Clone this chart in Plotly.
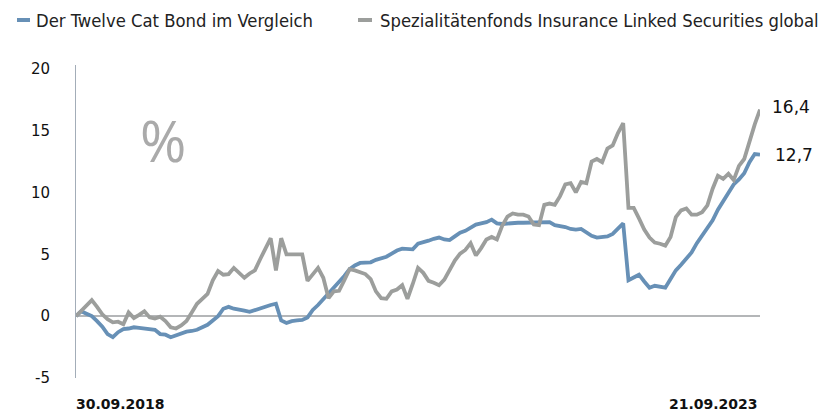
import plotly.graph_objects as go
import pandas as pd

start_date = "2018-09-30"
n_points = 131
dates = pd.date_range(start_date, periods=n_points, freq="14D")

twelve_cat_bond = [
    0.0, 0.4, 0.2, 0.0, -0.4, -0.85, -1.45, -1.7, -1.3, -1.05,
    -1.0, -0.9, -0.95, -1.0, -1.05, -1.1, -1.45, -1.5, -1.7, -1.55,
    -1.35, -1.25, -1.2, -1.1, -0.9, -0.7, -0.35, 0.0, 0.6, 0.75,
    0.6, 0.55, 0.45, 0.35, 0.5, 0.65, 0.75, 0.9, 1.0, -0.35,
    -0.55, -0.4, -0.35, -0.3, -0.1, 0.5, 0.9, 1.35, 1.85, 2.25,
    2.7, 3.25, 3.8, 4.1, 4.3, 4.35, 4.35, 4.55, 4.65, 4.8,
    5.05, 5.3, 5.45, 5.4, 5.4, 5.85, 5.95, 6.1, 6.25, 6.35,
    6.2, 6.15, 6.45, 6.75, 6.9, 7.15, 7.4, 7.5, 7.6, 7.8,
    7.5, 7.45, 7.5, 7.5, 7.55, 7.55, 7.55, 7.6, 7.6, 7.6,
    7.6, 7.35, 7.3, 7.2, 7.05, 7.0, 7.05, 6.75, 6.5, 6.35,
    6.4, 6.45, 6.65, 7.1, 7.5, 2.9, 3.1, 3.35, 2.8, 2.3,
    2.45, 2.4, 2.3, 3.0, 3.7, 4.15, 4.6, 5.15, 5.9, 6.5,
    7.05, 7.75, 8.6, 9.3, 10.05, 10.65, 11.05, 11.55, 12.45, 13.1,
    13.05,
]

ils_fonds = [
    0.0, 0.45, 0.9, 1.3, 0.75, 0.15, -0.25, -0.5, -0.45, -0.65,
    0.3, -0.15, 0.1, 0.4, -0.1, -0.2, -0.05, -0.4, -0.9, -1.0,
    -0.75, -0.4, 0.3, 1.0, 1.4, 1.8, 2.9, 3.65, 3.35, 3.4,
    3.9, 3.5, 3.1, 3.45, 3.7, 4.6, 5.4, 6.3, 3.7, 6.3,
    5.0, 5.0, 5.05, 5.0, 2.85, 3.4, 3.9, 3.1, 1.45, 2.0,
    2.05, 2.9, 3.8, 3.7, 3.55, 3.4, 3.0, 2.0, 1.45, 1.4,
    2.0, 2.15, 2.5, 1.4, 2.6, 3.9, 3.5, 2.85, 2.7, 2.5,
    2.95, 3.75, 4.5, 5.05, 5.35, 5.9, 4.9, 5.5, 6.2, 6.4,
    6.2, 7.3, 8.05, 8.3, 8.2, 8.2, 8.05, 7.4, 7.35, 9.0,
    9.1, 9.0, 9.7, 10.65, 10.75, 10.0, 10.85, 10.75, 12.5, 12.7,
    12.45, 13.55, 13.8, 14.8, 15.6, 8.75, 8.75, 7.9, 7.0, 6.35,
    5.95, 5.85, 5.7, 6.4, 8.0, 8.55, 8.7, 8.2, 8.2, 8.4,
    8.95, 10.3, 11.35, 11.1, 11.5, 11.0, 12.15, 12.7, 14.2, 15.5,
    16.7,
]

series_names = ["Der Twelve Cat Bond im Vergleich",
                "Spezialitätenfonds Insurance Linked Securities global"]
end_labels = ["12,7", "16,4"]
x_tick_labels = ["30.09.2018", "21.09.2023"]
y_ticks = [-5, 0, 5, 10, 15, 20]
y_tick_labels = ["-5", "0", "5", "10", "15", "20"]

blue = "#6790b6"
grey = "#9c9e9c"
colors = [blue, grey]

# layout geometry (pixels)
W, H = 831, 412
ML, MR, MT, MB = 76, 71, 65, 34
PW, PH = W - ML - MR, H - MT - MB


def px_x(p):
    return (p - ML) / PW


def px_y(p):
    return (H - MB - p) / PH


fig = go.Figure()
fig.add_trace(go.Scatter(x=dates, y=twelve_cat_bond, mode="lines", name=series_names[0],
                         line=dict(color=blue, width=3.8)))
fig.add_trace(go.Scatter(x=dates, y=ils_fonds, mode="lines", name=series_names[1],
                         line=dict(color=grey, width=3.8)))

# legend drawn at the top
legend_font = dict(family="DejaVu Sans Condensed, DejaVu Sans", size=18.3, color="#222")
legend_items = [(17, 30, 34), (358, 372, 378)]
for (x0, x1, xt), name, c in zip(legend_items, series_names, colors):
    fig.add_shape(type="line", xref="paper", yref="paper", x0=px_x(x0), x1=px_x(x1),
                  y0=px_y(20), y1=px_y(20), line=dict(color=c, width=4))
    fig.add_annotation(x=px_x(xt), y=px_y(20), xref="paper", yref="paper", text=name,
                       showarrow=False, xanchor="left", yanchor="middle", font=legend_font)

# end-value labels
fig.add_annotation(x=1.0, xref="paper", xshift=10, y=16.9, text=end_labels[1], showarrow=False,
                   xanchor="left", font=dict(family="DejaVu Sans", size=17, color="#111"))
fig.add_annotation(x=1.0, xref="paper", xshift=13, y=13.0, text=end_labels[0], showarrow=False,
                   xanchor="left", font=dict(family="DejaVu Sans", size=17, color="#111"))
# percent sign
fig.add_annotation(x=px_x(163), xref="paper", y=px_y(140), yref="paper", text="%", showarrow=False,
                   xanchor="center", yanchor="middle",
                   font=dict(family="Open Sans", size=56, color="#aaaaaa"))
# x-axis end labels
fig.add_annotation(x=dates[0], y=0, yref="paper", yshift=-26, text=x_tick_labels[0], showarrow=False,
                   xanchor="left", yanchor="middle", xshift=-2,
                   font=dict(family="DejaVu Sans", size=14, color="#111", weight="bold"))
fig.add_annotation(x=dates[-1], y=0, yref="paper", yshift=-26, text=x_tick_labels[1], showarrow=False,
                   xanchor="right", yanchor="middle",
                   font=dict(family="DejaVu Sans", size=14, color="#111", weight="bold"))

fig.update_layout(
    width=W, height=H,
    margin=dict(l=ML, r=MR, t=MT, b=MB, autoexpand=False),
    plot_bgcolor="white", paper_bgcolor="white",
    showlegend=False,
    xaxis=dict(range=[dates[0], dates[-1]], showgrid=False, showticklabels=False,
               zeroline=False, showline=False, ticks="", automargin=False),
    yaxis=dict(range=[-5, 20.3], tickvals=y_ticks, ticktext=y_tick_labels, showgrid=False,
               zeroline=True, zerolinecolor="#b4b6b8", zerolinewidth=1.5,
               showline=True, linecolor="#a3adb8", linewidth=1,
               ticks="", ticklabelstandoff=22, automargin=False,
               tickfont=dict(family="DejaVu Sans", size=15, color="#111")),
)

fig.write_html("out.html", config={"displayModeBar": False},
               post_script="document.body.style.margin='0';document.body.style.overflow='hidden';")
